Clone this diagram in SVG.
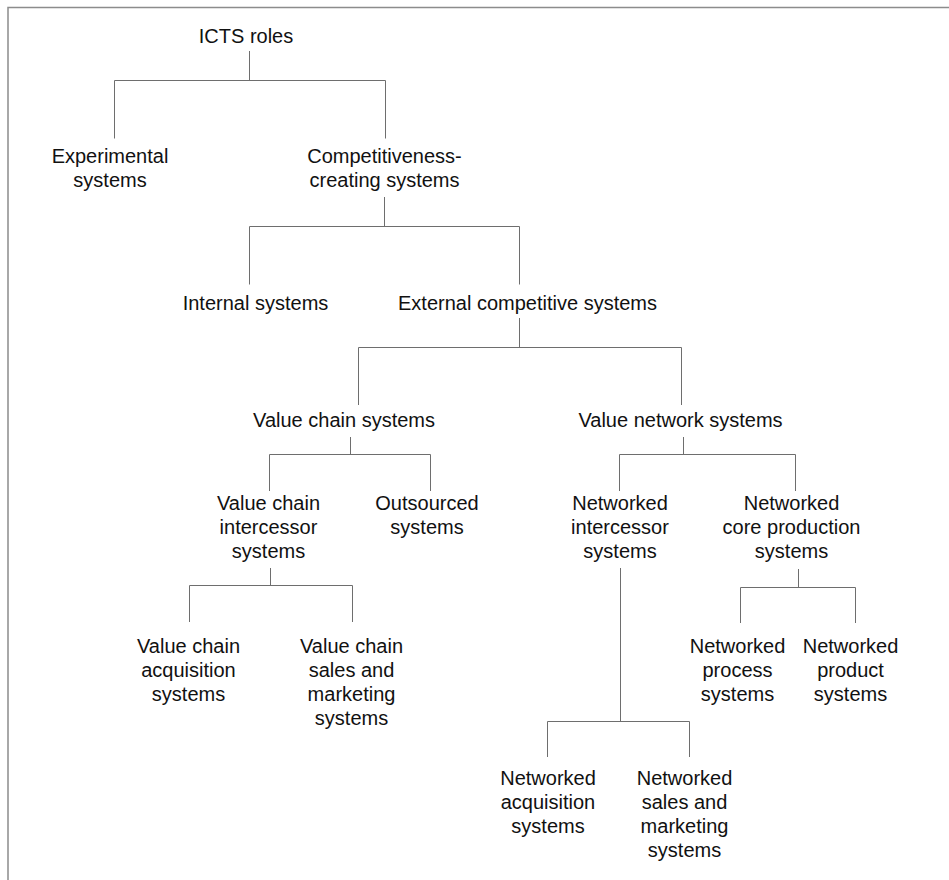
<svg xmlns="http://www.w3.org/2000/svg" width="949" height="880" viewBox="0 0 949 880">
  <style>
    .frame { fill: none; stroke: #8c8c8c; stroke-width: 1.5; }
    .link { fill: none; stroke: #6e6e6e; stroke-width: 1; }
    text { font-family: "Liberation Sans", Arial, sans-serif; font-size: 20px; fill: #111; text-anchor: middle; }
  </style>
  <rect width="949" height="880" fill="#fff"/>
  <path class="frame" d="M8,880 V7.5 H949"/>

  <g id="connectors">
    <path class="link" d="M249.5,51 V80.5 M114.5,138.5 V80.5 H385.5 V138.5"/>
    <path class="link" d="M384.5,197 V226.5 M249.5,284.5 V226.5 H519.5 V284.5"/>
    <path class="link" d="M519.5,318 V347.5 M358.5,405 V347.5 H681.5 V405"/>
    <path class="link" d="M350.5,437 V454.5 M269.5,491 V454.5 H430.5 V491"/>
    <path class="link" d="M683.5,437 V454.5 M619.5,491 V454.5 H795.5 V491"/>
    <path class="link" d="M270.5,568 V585.5 M189.5,622 V585.5 H352.5 V622"/>
    <path class="link" d="M798.5,569 V587.5 M740.5,623 V587.5 H855.5 V623"/>
    <path class="link" d="M620.5,568 V721.5 M547.5,757 V721.5 H689.5 V757"/>
  </g>

  <g id="icts-roles"><text x="246" y="43">ICTS roles</text></g>
  <g id="experimental"><text x="110" y="163">Experimental</text><text x="110" y="187">systems</text></g>
  <g id="competitiveness"><text x="384.5" y="163">Competitiveness-</text><text x="384.5" y="187">creating systems</text></g>
  <g id="internal"><text x="255.5" y="310">Internal systems</text></g>
  <g id="external"><text x="527.5" y="310">External competitive systems</text></g>
  <g id="value-chain"><text x="344" y="426.5">Value chain systems</text></g>
  <g id="value-network"><text x="680.5" y="426.5">Value network systems</text></g>
  <g id="vc-intercessor"><text x="268.5" y="510">Value chain</text><text x="268.5" y="534">intercessor</text><text x="268.5" y="558">systems</text></g>
  <g id="outsourced"><text x="427" y="510">Outsourced</text><text x="427" y="534">systems</text></g>
  <g id="net-intercessor"><text x="620" y="510">Networked</text><text x="620" y="534">intercessor</text><text x="620" y="558">systems</text></g>
  <g id="net-core"><text x="791.5" y="510">Networked</text><text x="791.5" y="534">core production</text><text x="791.5" y="558">systems</text></g>
  <g id="vc-acquisition"><text x="188.5" y="653">Value chain</text><text x="188.5" y="677">acquisition</text><text x="188.5" y="701">systems</text></g>
  <g id="vc-sales"><text x="351.5" y="653">Value chain</text><text x="351.5" y="677">sales and</text><text x="351.5" y="701">marketing</text><text x="351.5" y="725">systems</text></g>
  <g id="net-process"><text x="737.5" y="653">Networked</text><text x="737.5" y="677">process</text><text x="737.5" y="701">systems</text></g>
  <g id="net-product"><text x="850.5" y="653">Networked</text><text x="850.5" y="677">product</text><text x="850.5" y="701">systems</text></g>
  <g id="net-acquisition"><text x="548" y="785">Networked</text><text x="548" y="809">acquisition</text><text x="548" y="833">systems</text></g>
  <g id="net-sales"><text x="684.5" y="785">Networked</text><text x="684.5" y="809">sales and</text><text x="684.5" y="833">marketing</text><text x="684.5" y="857">systems</text></g>
</svg>
